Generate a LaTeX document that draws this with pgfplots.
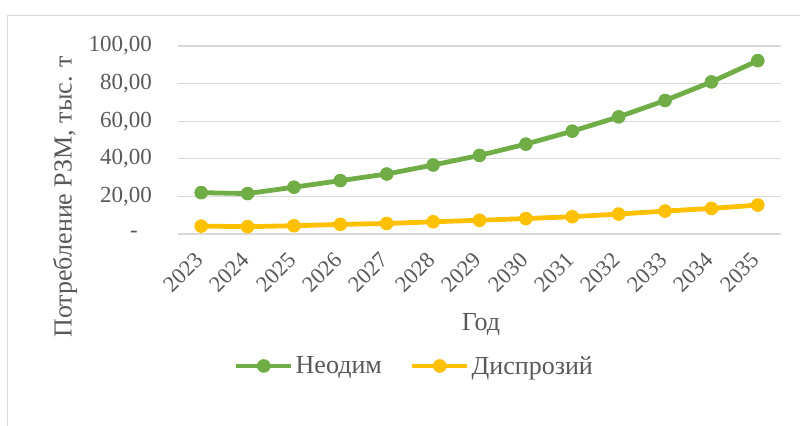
\documentclass[border=0pt]{standalone}
\usepackage{pgfplots}
\pgfplotsset{compat=1.18}
\usepackage{fontspec}
\setmainfont{Liberation Serif}
\definecolor{ngreen}{HTML}{70AD47}
\definecolor{dyell}{HTML}{FFC000}
\definecolor{gridc}{HTML}{D9D9D9}
\definecolor{txt}{HTML}{595959}
\begin{document}
\begin{tikzpicture}
\path[use as bounding box] (0,0) rectangle (800bp,426bp);
\draw[gridc, line width=1bp] (7bp,0) -- (7bp,410.5bp) -- (800bp,410.5bp);
\begin{axis}[
  at={(178bp,192bp)}, anchor=south west,
  scale only axis, width=603bp, height=188bp,
  xmin=-0.5, xmax=12.5, ymin=0, ymax=100,
  axis line style={draw=none},
  ytick={0,20,40,60,80,100},
  yticklabels={{-\hspace*{14bp}},{20,00},{40,00},{60,00},{80,00},{100,00}},
  ymajorgrids, grid style={gridc, line width=1.2bp},
  xtick={0,...,12},
  xticklabels={2023,2024,2025,2026,2027,2028,2029,2030,2031,2032,2033,2034,2035},
  major tick length=0pt,
  yticklabel style={text=txt, font=\fontsize{23bp}{26bp}\selectfont, anchor=east, inner sep=0pt, xshift=-26bp},
  xticklabel style={text=txt, font=\fontsize{22.5bp}{26bp}\selectfont, inner sep=0pt, xshift=-2bp, yshift=-22bp, rotate=45, anchor=east},
  xlabel={Год},
  ylabel={Потребление РЗМ, тыс. т},
  xlabel style={text=txt, font=\fontsize{26bp}{30bp}\selectfont, at={(axis description cs:0.5025,-0.484)}, anchor=center},
  ylabel style={text=txt, font=\fontsize{26bp}{30bp}\selectfont, at={(axis description cs:-0.1874,0.197)}, anchor=center, rotate=0},
  legend columns=2,
  legend style={at={(0.392,-0.702)}, anchor=center, draw=none, fill=none,
    font=\fontsize{26bp}{30bp}\selectfont, text=txt, inner sep=0pt,
    nodes={inner xsep=2bp, inner ysep=0pt},
    /tikz/every even column/.append style={column sep=26bp}},
  legend image code/.code={\draw[mark repeat=2,mark phase=2,#1] plot coordinates {(0bp,0bp) (27.5bp,0bp) (55bp,0bp)};},
  clip=false,
]
\addplot[ngreen, line width=4.8bp, line join=round, mark=*, mark size=6.3bp, mark options={fill=ngreen, draw=ngreen, line width=1bp}]
  coordinates {(0,22.0) (1,21.5) (2,24.9) (3,28.4) (4,31.9) (5,36.7) (6,41.8) (7,47.8) (8,54.7) (9,62.3) (10,71.0) (11,80.9) (12,92.2)};
\addlegendentry{Неодим}
\addplot[dyell, line width=4.8bp, line join=round, mark=*, mark size=6.3bp, mark options={fill=dyell, draw=dyell, line width=1bp}]
  coordinates {(0,4.2) (1,3.9) (2,4.4) (3,5.1) (4,5.6) (5,6.5) (6,7.3) (7,8.2) (8,9.2) (9,10.6) (10,12.2) (11,13.6) (12,15.4)};
\addlegendentry{Диспрозий}
\end{axis}
\end{tikzpicture}
\end{document}
